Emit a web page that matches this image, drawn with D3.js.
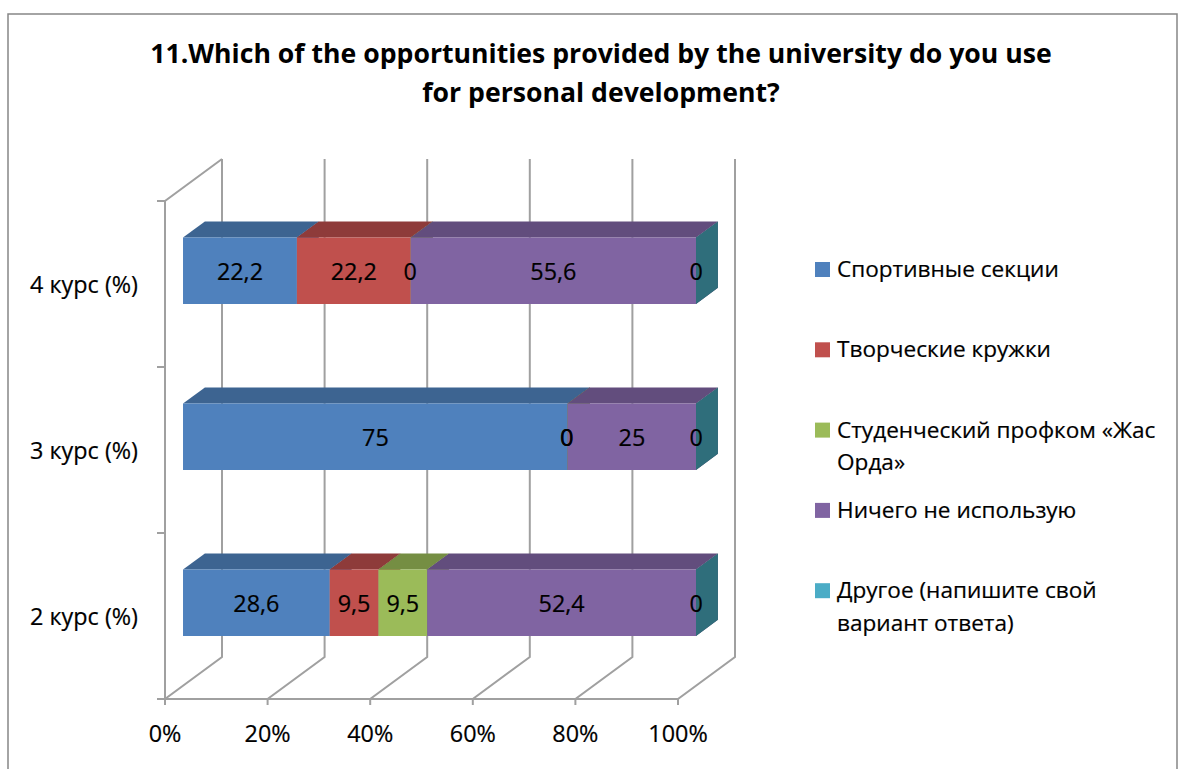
<!DOCTYPE html>
<html>
<head>
<meta charset="utf-8">
<script src="https://cdn.jsdelivr.net/npm/d3@7"></script>
<style>
  html, body { margin: 0; padding: 0; background: #fff; }
  svg { display: block; }
  text { font-family: "Open Sans", "Noto Sans", sans-serif; fill: #000; }
  text.norm { stroke: #000; stroke-width: 0.2px; }
</style>
</head>
<body>
<svg id="chart" width="1184" height="769"></svg>
<script>
// ---- DATA ----
const titleLines = ["11.Which of the opportunities provided by the university do you use", "for personal development?"];
const categories = ["4 курс (%)", "3 курс (%)", "2 курс (%)"];
const seriesNames = ["Спортивные секции", "Творческие кружки", "Студенческий профком «Жас Орда»", "Ничего не использую", "Другое (напишите свой вариант ответа)"];
const legendLines = [["Спортивные секции"], ["Творческие кружки"], ["Студенческий профком «Жас", "Орда»"], ["Ничего не использую"], ["Другое (напишите свой", "вариант ответа)"]];
const sportValues   = [22.2, 75, 28.6];
const creativeValues = [22.2, 0, 9.5];
const unionValues   = [0, 0, 9.5];
const nothingValues = [55.6, 25, 52.4];
const otherValues   = [0, 0, 0];
const xTicks = [0, 20, 40, 60, 80, 100];
const xTickLabels = ["0%", "20%", "40%", "60%", "80%", "100%"];

const seriesValues = [sportValues, creativeValues, unionValues, nothingValues, otherValues];
const frontColors = ["#4F81BD", "#C0504D", "#9BBB59", "#8064A2", "#4BACC6"];
const topColors   = ["#3D6491", "#8E3B3A", "#758E43", "#624D7D", "#3A8499"];
const sideColors  = ["#35598A", "#853736", "#6C823D", "#574570", "#2F6E7B"];

const svg = d3.select("#chart");

// outer border
svg.append("rect").attr("x", 8).attr("y", 14).attr("width", 1169).attr("height", 800)
  .attr("fill", "#fff").attr("stroke", "#868686").attr("stroke-width", 1.5);

// font fitting helper
function fitSize(text, weight, target) {
  const t = svg.append("text").attr("font-size", 20).attr("font-weight", weight).text(text);
  const w = t.node().getComputedTextLength();
  t.remove();
  return 20 * target / w;
}
const titleSize = fitSize(titleLines[0], "bold", 902);
const axisSize = fitSize("4 курс (%)", "normal", 108);
const legendSize = (fitSize("Спортивные секции", "normal", 214) + fitSize("Студенческий профком «Жас", "normal", 330)) / 2;

// title
svg.selectAll("text.title").data(titleLines).join("text")
  .attr("class", "title")
  .attr("x", 601).attr("y", (d, i) => 63 + i * 39)
  .attr("text-anchor", "middle").attr("font-weight", "bold")
  .attr("font-size", titleSize).text(d => d);

// ---- 3D geometry ----
const x = d3.scaleLinear().domain([0, 100]).range([165, 678]);
const y = d3.scaleBand().domain(categories).range([201, 699]).paddingInner(0.6).paddingOuter(0.3);
const depth = { dx: 57, dy: -42 };
const d0 = 0.316, d1 = 0.70;
const proj = (px, py, d) => [px + depth.dx * d, py + depth.dy * d];
const yTop = 201, yBot = 699;

const grid = svg.append("g").attr("stroke", "#a0a0a0").attr("stroke-width", 2).attr("fill", "none");
const line = d3.line();

// back wall verticals + floor diagonals + front ticks
xTicks.forEach(t => {
  const fx = x(t);
  grid.append("path").attr("d", line([proj(fx, yTop, 1), proj(fx, yBot, 1), [fx, yBot], [fx, yBot + 6]]));
});
// floor front edge
grid.append("path").attr("d", line([[157, yBot], [x(100), yBot]]));
// left wall
grid.append("path").attr("d", line([[x(0), yBot], [x(0), yTop], proj(x(0), yTop, 1)]));
// left category ticks
const step = (yBot - yTop) / categories.length;
d3.range(categories.length + 1).forEach(i => {
  grid.append("path").attr("d", line([[157, yTop + i * step], [x(0), yTop + i * step]]));
});

// ---- bars ----
const bars = svg.append("g");
const labels = svg.append("g");
categories.forEach((cat, ci) => {
  let cum = 0;
  const by0 = y(cat), by1 = y(cat) + y.bandwidth();
  seriesValues.forEach((vals, si) => {
    const v = vals[ci];
    const xa = x(cum), xb = x(cum + v);
    const g = bars.append("g");
    // top face
    g.append("path").attr("fill", topColors[si])
      .attr("d", line([proj(xa, by0, d0), proj(xb, by0, d0), proj(xb, by0, d1), proj(xa, by0, d1)]) + "Z");
    // front face
    g.append("path").attr("fill", frontColors[si])
      .attr("d", line([proj(xa, by0, d0), proj(xb, by0, d0), proj(xb, by1, d0), proj(xa, by1, d0)]) + "Z");
    // right side face
    g.append("path").attr("fill", sideColors[si])
      .attr("d", line([proj(xb, by0, d0), proj(xb, by0, d1), proj(xb, by1, d1), proj(xb, by1, d0)]) + "Z");
    // data label
    const c = proj((xa + xb) / 2, (by0 + by1) / 2, d0);
    labels.append("text").attr("class", "norm")
      .attr("x", c[0] - (v === 0 ? 1.5 - si * 0.4 : 0)).attr("y", c[1] + 9)
      .attr("text-anchor", "middle").attr("font-size", axisSize)
      .text(String(v).replace(".", ","));
    cum += v;
  });
});

// category labels
svg.selectAll("text.cat").data(categories).join("text")
  .attr("class", "cat norm")
  .attr("x", 138).attr("y", d => y(d) + y.bandwidth() / 2 + 9)
  .attr("text-anchor", "end").attr("font-size", axisSize).text(d => d);

// x tick labels
svg.selectAll("text.xt").data(xTicks).join("text")
  .attr("class", "xt norm")
  .attr("x", d => x(d)).attr("y", 742)
  .attr("text-anchor", "middle").attr("font-size", axisSize)
  .text((d, i) => xTickLabels[i]);

// legend
const legend = svg.append("g");
legendLines.forEach((lines, i) => {
  const base = 277 + i * 80.3;
  legend.append("rect").attr("x", 815).attr("y", base - 15).attr("width", 15).attr("height", 15)
    .attr("fill", frontColors[i]);
  legend.append("text").attr("class", "norm").attr("x", 837).attr("y", base).attr("font-size", legendSize)
    .selectAll("tspan").data(lines).join("tspan")
    .attr("x", 837).attr("dy", (d, j) => j === 0 ? 0 : 32.5).text(d => d);
});
</script>
</body>
</html>
